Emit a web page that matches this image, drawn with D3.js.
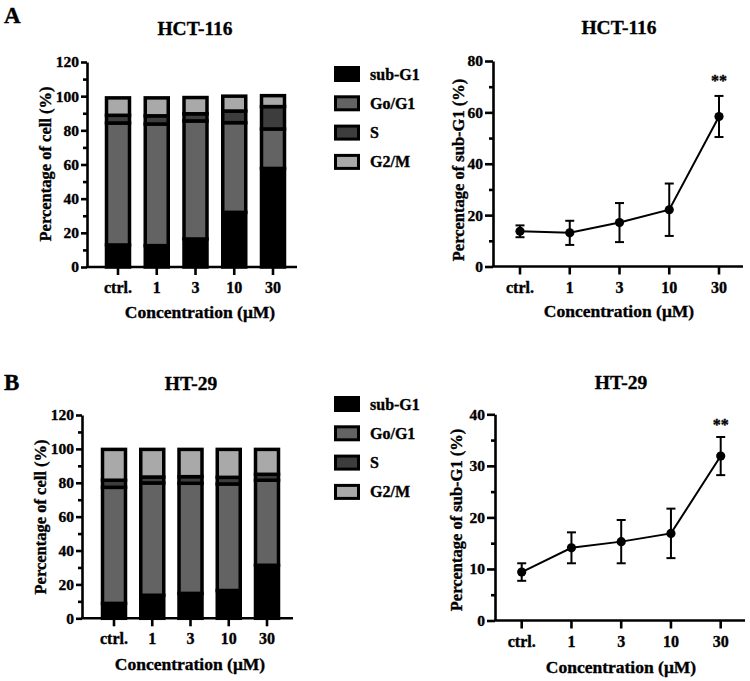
<!DOCTYPE html>
<html><head><meta charset="utf-8">
<script src="https://cdn.jsdelivr.net/npm/d3@7"></script>
<style>
body{margin:0;background:#fff}
text{font-family:"Liberation Serif","Times New Roman",serif;font-weight:bold;fill:#000;stroke:#000;stroke-width:0.35px}
</style>
</head><body><svg id="c" width="750" height="681"></svg>
<script>
const categories = ["ctrl.","1","3","10","30"];
const phases = ["sub-G1","Go/G1","S","G2/M"];
const phaseColors = ["#000000","#636363","#3d3d3d","#a9a9a9"];
// HCT-116 cell-cycle distribution (%)
const hctSubG1 = [12.9,12.5,16.4,32.0,57.7];
const hctG0G1  = [71.4,71.2,69.1,52.5,23.1];
const hctS     = [4.5,4.8,4.2,6.8,13.1];
const hctG2M   = [10.2,10.5,9.5,8.7,6.4];
// HT-29 cell-cycle distribution (%)
const htSubG1 = [8.8,13.6,14.7,16.4,31.3];
const htG0G1  = [68.5,66.3,65.0,62.9,50.2];
const htS     = [4.2,3.5,3.9,3.9,3.5];
const htG2M   = [18.2,16.3,16.1,16.5,14.7];
// sub-G1 mean and SD
const hctMean = [13.7,13.1,17.1,22.1,58.4];
const hctSD   = [2.3,4.7,7.6,10.2,8.0];
const htMean  = [9.4,14.1,15.3,16.9,31.9];
const htSD    = [1.7,3.0,4.2,4.8,3.7];
const signif  = ["","","","","**"];
const barTicks = [0,20,40,60,80,100,120];
const barMinor = [10,30,50,70,90,110];
const hctLineTicks = [0,20,40,60,80];
const hctLineMinor = [10,30,50,70];
const htLineTicks = [0,10,20,30,40];
const htLineMinor = [5,15,25,35];

const svg = d3.select("#c");
const AX = 2.6;

function styleAxis(g){
  g.select(".domain").attr("stroke","#000").attr("stroke-width",AX);
  g.selectAll(".tick line").attr("stroke","#000").attr("stroke-width",AX);
  g.selectAll(".tick text").style("font-size","15.5px").attr("fill","#000");
}

function yAxisWithMinor(g, y, ticks, minor, major){
  const a = g.append("g").call(d3.axisLeft(y).tickValues(ticks).tickSize(major).tickPadding(2).tickSizeOuter(0));
  styleAxis(a);
  const m = g.append("g").call(d3.axisLeft(y).tickValues(minor).tickSize(4).tickFormat("").tickSizeOuter(0));
  m.select(".domain").remove();
  m.selectAll(".tick line").attr("stroke","#000").attr("stroke-width",AX);
}

function barPanel(c){
  const rows = categories.map((k,i)=>({cat:k,"sub-G1":c.sub[i],"Go/G1":c.g0[i],"S":c.s[i],"G2/M":c.g2[i]}));
  const series = d3.stack().keys(phases)(rows);
  const y = d3.scaleLinear().domain([0,120]).range([c.y0,c.y120]);
  const x = d3.scalePoint().domain(categories).range([c.c0,c.c1]);
  const g = svg.append("g");
  const bw = 23;
  series.forEach((s,si)=>{
    g.selectAll(null).data(s).enter().append("rect")
      .attr("x",d=>x(d.data.cat)-bw/2).attr("width",bw)
      .attr("y",d=>y(d[1])).attr("height",d=>y(d[0])-y(d[1]))
      .attr("fill",phaseColors[si]).attr("stroke","#000").attr("stroke-width",3.5);
  });
  const xa = g.append("g").attr("transform",`translate(0,${c.y0})`);
  xa.append("line").attr("x1",c.ax-1).attr("x2",c.xEnd).attr("y1",0).attr("y2",0).attr("stroke","#000").attr("stroke-width",AX);
  xa.selectAll(null).data(categories).enter().append("line")
    .attr("x1",d=>x(d)).attr("x2",d=>x(d)).attr("y1",0).attr("y2",8).attr("stroke","#000").attr("stroke-width",AX);
  xa.selectAll(null).data(categories).enter().append("text")
    .attr("x",d=>x(d)).attr("y",26).attr("text-anchor","middle").style("font-size","16px").text(d=>d);
  const ya = g.append("g").attr("transform",`translate(${c.ax},0)`);
  yAxisWithMinor(ya,y,barTicks,barMinor,6);
  g.append("text").attr("x",c.titleX).attr("y",c.titleY).attr("text-anchor","middle").style("font-size","19.5px").text(c.title);
  g.append("text").attr("x",4).attr("y",c.letterY).style("font-size","23px").text(c.letter);
  g.append("text").attr("x",c.xtX).attr("y",c.xtY).attr("text-anchor","middle").style("font-size","17.5px").text("Concentration (μM)");
  g.append("text").attr("transform",`translate(${c.ytX},${c.ytY}) rotate(-90)`).attr("text-anchor","middle").style("font-size","16.5px").text("Percentage of cell (%)");
  const lg = g.append("g").attr("transform",`translate(334,${c.legY})`);
  phases.forEach((p,i)=>{
    lg.append("rect").attr("x",1.5).attr("y",i*29.3+1.5).attr("width",23).attr("height",13)
      .attr("fill",phaseColors[i]).attr("stroke","#000").attr("stroke-width",3);
    lg.append("text").attr("x",36).attr("y",i*29.3+13.5).style("font-size","16px").text(p);
  });
}

function linePanel(c){
  const y = d3.scaleLinear().domain([0,c.max]).range([c.y0,c.yTop]);
  const x = d3.scalePoint().domain(categories).range([c.c0,c.c1]);
  const g = svg.append("g");
  const pts = categories.map((k,i)=>({cat:k,m:c.mean[i],sd:c.sd[i],s:signif[i]}));
  const xa = g.append("g").attr("transform",`translate(0,${c.y0})`);
  xa.append("line").attr("x1",c.ax-1).attr("x2",c.xEnd).attr("y1",0).attr("y2",0).attr("stroke","#000").attr("stroke-width",AX);
  xa.selectAll(null).data(categories).enter().append("line")
    .attr("x1",d=>x(d)).attr("x2",d=>x(d)).attr("y1",0).attr("y2",8).attr("stroke","#000").attr("stroke-width",AX);
  xa.selectAll(null).data(categories).enter().append("text")
    .attr("x",d=>x(d)).attr("y",26).attr("text-anchor","middle").style("font-size","16px").text(d=>d);
  const ya = g.append("g").attr("transform",`translate(${c.ax},0)`);
  yAxisWithMinor(ya,y,c.ticks,c.minor,8);
  const eb = g.selectAll(null).data(pts).enter().append("g");
  eb.append("line").attr("x1",d=>x(d.cat)).attr("x2",d=>x(d.cat)).attr("y1",d=>y(d.m-d.sd)).attr("y2",d=>y(d.m+d.sd)).attr("stroke","#000").attr("stroke-width",2);
  eb.append("line").attr("x1",d=>x(d.cat)-4.5).attr("x2",d=>x(d.cat)+4.5).attr("y1",d=>y(d.m+d.sd)).attr("y2",d=>y(d.m+d.sd)).attr("stroke","#000").attr("stroke-width",2);
  eb.append("line").attr("x1",d=>x(d.cat)-4.5).attr("x2",d=>x(d.cat)+4.5).attr("y1",d=>y(d.m-d.sd)).attr("y2",d=>y(d.m-d.sd)).attr("stroke","#000").attr("stroke-width",2);
  g.append("path").datum(pts).attr("fill","none").attr("stroke","#000").attr("stroke-width",2)
    .attr("d",d3.line().x(d=>x(d.cat)).y(d=>y(d.m)));
  g.selectAll(null).data(pts).enter().append("circle").attr("cx",d=>x(d.cat)).attr("cy",d=>y(d.m)).attr("r",4.6).attr("fill","#000");
  g.selectAll(null).data(pts).enter().append("text").attr("x",d=>x(d.cat)).attr("y",d=>y(d.m+d.sd)-c.sigOff)
    .attr("text-anchor","middle").style("font-size","16px").text(d=>d.s);
  g.append("text").attr("x",c.titleX).attr("y",c.titleY).attr("text-anchor","middle").style("font-size","19.5px").text(c.title);
  g.append("text").attr("x",c.xtX).attr("y",c.xtY).attr("text-anchor","middle").style("font-size","17.5px").text("Concentration (μM)");
  g.append("text").attr("transform",`translate(${c.ytX},${c.ytY}) rotate(-90)`).attr("text-anchor","middle").style("font-size","16.5px").text("Percentage of sub-G1 (%)");
}

barPanel({sub:hctSubG1,g0:hctG0G1,s:hctS,g2:hctG2M,ax:87,xEnd:297,y0:267,y120:62,c0:118,c1:273,
  title:"HCT-116",titleX:195,titleY:35,letter:"A",letterY:23,xtX:200,xtY:318,ytX:51,ytY:164,legY:66});
barPanel({sub:htSubG1,g0:htG0G1,s:htS,g2:htG2M,ax:82,xEnd:293,y0:618.3,y120:415,c0:114,c1:267,
  title:"HT-29",titleX:191,titleY:390,letter:"B",letterY:390,xtX:190,xtY:670,ytX:46,ytY:517,legY:396});
linePanel({mean:hctMean,sd:hctSD,max:80,ticks:hctLineTicks,minor:hctLineMinor,ax:493,xEnd:743,y0:266.5,yTop:61,c0:520,c1:719,
  title:"HCT-116",titleX:619,titleY:34,xtX:619,xtY:317,ytX:464,ytY:170,sigOff:10});
linePanel({mean:htMean,sd:htSD,max:40,ticks:htLineTicks,minor:htLineMinor,ax:495,xEnd:745,y0:620.5,yTop:414.3,c0:521.7,c1:720.7,
  title:"HT-29",titleX:621,titleY:389,xtX:621,xtY:673,ytX:462,ytY:520,sigOff:7});
</script>
</body></html>
